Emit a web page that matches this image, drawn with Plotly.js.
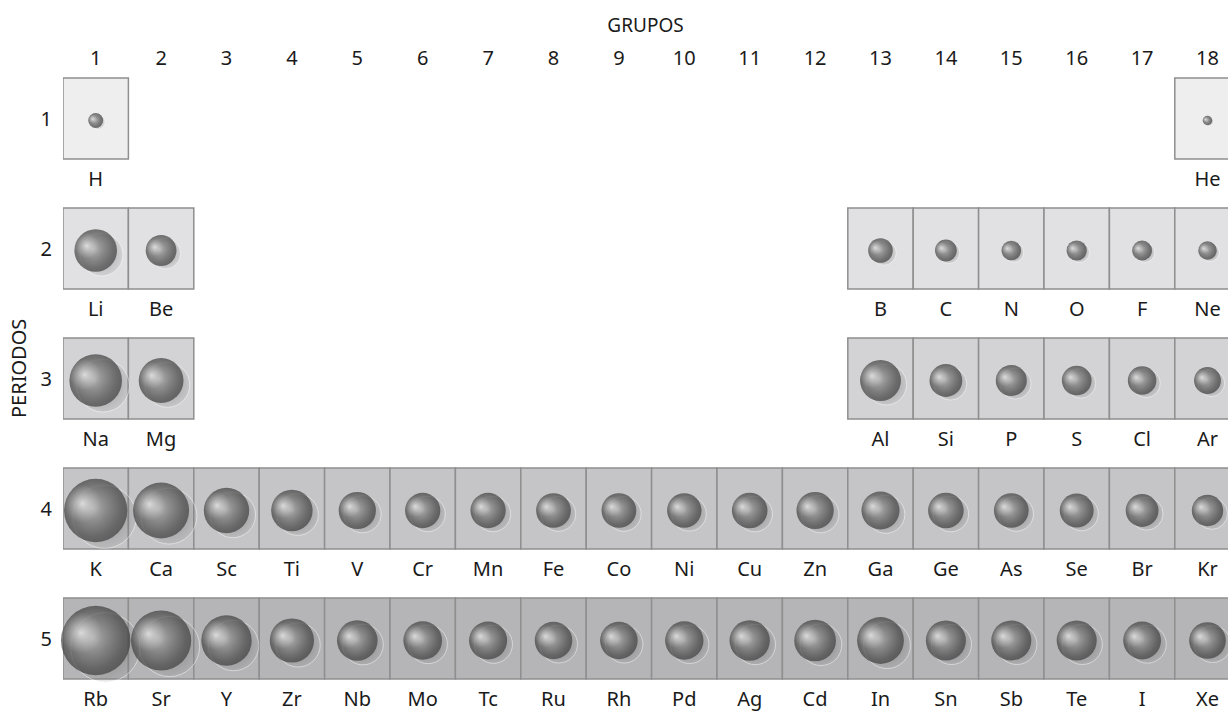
<!DOCTYPE html>
<html>
<head>
<meta charset="utf-8">
<script src="https://cdn.plot.ly/plotly-3.0.1.min.js"></script>
<style>html,body{margin:0;padding:0;background:#fff;}#chart{width:1228px;height:713px;}</style>
</head>
<body>
<div id="chart"></div>
<script>
// ---- data ----
const groupLabels = ['1','2','3','4','5','6','7','8','9','10','11','12','13','14','15','16','17','18'];
const periodLabels = ['1','2','3','4','5'];
const symbols = [
  'H','He',
  'Li','Be','B','C','N','O','F','Ne',
  'Na','Mg','Al','Si','P','S','Cl','Ar',
  'K','Ca','Sc','Ti','V','Cr','Mn','Fe','Co','Ni','Cu','Zn','Ga','Ge','As','Se','Br','Kr',
  'Rb','Sr','Y','Zr','Nb','Mo','Tc','Ru','Rh','Pd','Ag','Cd','In','Sn','Sb','Te','I','Xe'
];
const groups = [
  1,18,
  1,2,13,14,15,16,17,18,
  1,2,13,14,15,16,17,18,
  1,2,3,4,5,6,7,8,9,10,11,12,13,14,15,16,17,18,
  1,2,3,4,5,6,7,8,9,10,11,12,13,14,15,16,17,18
];
const periods = [
  1,1,
  2,2,2,2,2,2,2,2,
  3,3,3,3,3,3,3,3,
  4,4,4,4,4,4,4,4,4,4,4,4,4,4,4,4,4,4,
  5,5,5,5,5,5,5,5,5,5,5,5,5,5,5,5,5,5
];
// atomic radius (pm), estimated from sphere sizes
const radii = [
  53,34,
  152,110,88,78,70,72,71,66,
  188,160,146,117,111,106,102,96,
  226,200,162,148,133,126,126,124,124,123,127,133,136,127,124,121,117,112,
  248,215,180,158,145,138,136,134,134,137,144,149,167,143,143,143,135,131
];

// ---- geometry / styles ----
const W = 1228, H = 713;
const M = {l:63, r:0, t:72, b:0};
const PX_PER_COL = 65.4, PX_PER_ROW = 130;
const ROW1_CENTER_PX = 118.5;
const plotW = W - M.l - M.r, plotH = H - M.t - M.b;
const xRange = [0.5, 0.5 + plotW / PX_PER_COL];
const yTop = 1 - (ROW1_CENTER_PX - M.t) / PX_PER_ROW;
const yBot = yTop + plotH / PX_PER_ROW;
const CELL_HALF_H = 40.5 / PX_PER_ROW;
const LABEL_OFFSET = 62 / PX_PER_ROW;
const PX_PER_PM = 0.28; // sphere diameter scale
const rowFill = {1:'#eeeeee', 2:'#e1e1e3', 3:'#d3d3d5', 4:'#c5c5c7', 5:'#b5b5b7'};
const FONT = 'Noto Sans, DejaVu Sans, sans-serif';
const TXT = '#1a1a1a';

const dx = px => px / PX_PER_COL;
const dy = px => px / PX_PER_ROW;

// cells
const shapes = symbols.map((s, i) => ({
  type:'rect', xref:'x', yref:'y', layer:'below',
  x0: groups[i] - 0.5, x1: groups[i] + 0.5,
  y0: periods[i] - CELL_HALF_H, y1: periods[i] + CELL_HALF_H,
  fillcolor: rowFill[periods[i]],
  line:{color:'#8f8f8f', width:1.5}
}));

const diam = radii.map(r => r * PX_PER_PM);

// edge = marker colour, centre = gradient colour (Plotly radial gradient)
function layer(scale, offX, offY, edge, centre, line) {
  return {
    type:'scatter', mode:'markers', hoverinfo:'skip', showlegend:false, cliponaxis:false,
    x: groups.map((g, i) => g + dx(offX * diam[i] / 2)),
    y: periods.map((p, i) => p + dy(2 + offY * diam[i] / 2)),
    marker:{
      size: diam.map(d => d * scale),
      color: edge,
      gradient: centre ? {type:'radial', color: centre} : undefined,
      line: line || {width:0}
    }
  };
}

const traces = [
  // soft shadow to the lower right
  layer(1.0, 0.28, 0.20, 'rgba(120,120,120,0.2)', 'rgba(45,45,45,0.6)', {color:'rgba(255,255,255,0.65)', width:1}),
  // sphere body
  layer(1.0, 0, 0, '#3c3c3c', '#8c8c8c'),
  // mid tone, shifted to upper-left
  layer(0.9, -0.10, -0.08, 'rgba(140,140,140,0)', 'rgba(190,190,190,0.95)'),
  // specular highlight
  layer(0.6, -0.42, -0.22, 'rgba(205,205,205,0)', 'rgba(252,252,252,1)'),
  // element symbols
  {
    type:'scatter', mode:'text', hoverinfo:'skip', showlegend:false, cliponaxis:false,
    x: groups, y: periods.map(p => p + LABEL_OFFSET),
    text: symbols, textposition:'middle center',
    textfont:{family:FONT, size:20, color:TXT}
  }
];

const layout = {
  width:W, height:H, margin:M,
  paper_bgcolor:'#ffffff', plot_bgcolor:'#ffffff',
  showlegend:false,
  font:{family:FONT, size:20, color:TXT},
  xaxis:{
    range:xRange, side:'top', showgrid:false, zeroline:false, showline:false,
    tickmode:'array', tickvals:groupLabels.map((g,i)=>i+1), ticktext:groupLabels,
    ticks:'', tickfont:{family:FONT, size:20, color:TXT}, automargin:false,
    ticklabelstandoff:2,
    title:{text:'GRUPOS', font:{family:FONT, size:19, color:TXT}, standoff:6}
  },
  yaxis:{
    range:[yBot, yTop], showgrid:false, zeroline:false, showline:false,
    tickmode:'array', tickvals:periodLabels.map((p,i)=>i+1), ticktext:periodLabels,
    ticks:'', tickfont:{family:FONT, size:20, color:TXT}, automargin:false,
    ticklabelstandoff:10
  },
  annotations:[{
    text:'PERIODOS', textangle:-90, showarrow:false,
    xref:'paper', yref:'paper', x:(18 - M.l) / plotW, y:1 - (368 - M.t) / plotH,
    xanchor:'center', yanchor:'middle',
    font:{family:FONT, size:20, color:TXT}
  }],
  shapes:shapes
};

Plotly.newPlot('chart', traces, layout, {staticPlot:true, displayModeBar:false});
</script>
</body>
</html>
